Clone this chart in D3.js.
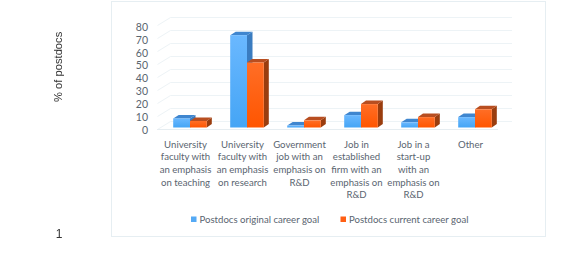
<!DOCTYPE html>
<html>
<head>
<meta charset="utf-8">
<script src="https://cdnjs.cloudflare.com/ajax/libs/d3/7.8.5/d3.min.js"></script>
<style>
  html, body { margin: 0; padding: 0; background: #fff; }
  svg { display: block; filter: blur(0.3px); }
</style>
</head>
<body>
<svg id="chart" width="574" height="262"></svg>
<script>
const categories = [
  ["University", "faculty with", "an emphasis", "on teaching"],
  ["University", "faculty with", "an emphasis", "on research"],
  ["Government", "job with an", "emphasis on", "R&D"],
  ["Job in", "established", "firm with an", "emphasis on", "R&D"],
  ["Job in a", "start-up", "with an", "emphasis on", "R&D"],
  ["Other"]
];
const originalGoal = [7, 71, 1.5, 9.5, 4, 8];
const currentGoal = [5, 50, 5.5, 18, 8, 14];
const yTicks = [0, 10, 20, 30, 40, 50, 60, 70, 80];
const seriesNames = ["Postdocs original career goal", "Postdocs current career goal"];

const svg = d3.select("#chart");
const labelFont = "Lato, 'Open Sans', sans-serif";
const textColor = "#5a6570";

const x = d3.scaleBand()
  .domain(d3.range(categories.length))
  .range([161.5, 503.5]);
const y = d3.scaleLinear().domain([0, 80]).range([127.5, 23.5]);
// tick labels sit on the front corner, slightly tighter than the bars
const yLabel = d3.scaleLinear().domain([0, 80]).range([133.8, 30.8]);
const barWidth = 16.8;

const defs = svg.append("defs");
function addGradient(id, top, bottom) {
  const g = defs.append("linearGradient")
    .attr("id", id)
    .attr("x1", 0).attr("y1", 0).attr("x2", 0).attr("y2", 1);
  g.append("stop").attr("offset", "0%").attr("stop-color", top);
  g.append("stop").attr("offset", "100%").attr("stop-color", bottom);
}
addGradient("blueFront", "#6ab8ff", "#45a5f5");
addGradient("orangeFront", "#ff6e26", "#ff5500");

// chart frame
svg.append("rect")
  .attr("x", 111.5).attr("y", 1.5)
  .attr("width", 434).attr("height", 235)
  .attr("fill", "#fff")
  .attr("stroke", "#e6eef2");

// back wall gridlines and the slanted bits on the side wall
const wallDx = 13;
const wallDy = -8;
const floorY = 2;
svg.append("g")
  .selectAll("polyline")
  .data(yTicks)
  .enter()
  .append("polyline")
  .attr("points", d => {
    const py = y(d) + floorY;
    return [
      [x.range()[0] - 4, py],
      [x.range()[0] - 4 + wallDx, py + wallDy],
      [512, py + wallDy]
    ].join(" ");
  })
  .attr("fill", "none")
  .attr("stroke", "#edf3f6");

// floor front edge
svg.append("line")
  .attr("x1", 157).attr("x2", 498)
  .attr("y1", y(0) + 2).attr("y2", y(0) + 2)
  .attr("stroke", "#e6edf1");

// y tick labels
svg.append("g")
  .selectAll("text")
  .data(yTicks)
  .enter()
  .append("text")
  .attr("x", 148)
  .attr("y", d => yLabel(d))
  .attr("text-anchor", "end")
  .attr("font-family", labelFont)
  .attr("font-size", "10.5px")
  .attr("fill", textColor)
  .text(d => d);

function drawBars(values, offset, frontFill, topFill, sideFill, depth, rise) {
  const bars = svg.append("g")
    .selectAll("g")
    .data(values)
    .enter()
    .append("g");

  const left = (d, i) => x(i) + x.bandwidth() / 2 + offset;

  bars.append("polygon")
    .attr("fill", sideFill)
    .attr("points", (d, i) => {
      const r = left(d, i) + barWidth;
      return [[r, y(d)], [r + depth, y(d) - rise], [r + depth, y(0) - rise], [r, y(0)]].join(" ");
    });

  bars.append("polygon")
    .attr("fill", topFill)
    .attr("points", (d, i) => {
      const l = left(d, i);
      const r = l + barWidth;
      return [[l, y(d)], [l + depth, y(d) - rise], [r + depth, y(d) - rise], [r, y(d)]].join(" ");
    });

  bars.append("rect")
    .attr("x", left)
    .attr("y", d => y(d))
    .attr("width", barWidth)
    .attr("height", d => y(0) - y(d))
    .attr("fill", frontFill);
}

drawBars(originalGoal, -barWidth, "url(#blueFront)", "#3f86cf", "#3a7cc0", 5.5, 3.5);
drawBars(currentGoal, 0, "url(#orangeFront)", "#b84e20", "#9a3d0e", 5, 3.5);

// category labels
const catLabels = svg.append("g")
  .selectAll("text")
  .data(categories)
  .enter()
  .append("text")
  .attr("text-anchor", "middle")
  .attr("font-family", labelFont)
  .attr("font-size", "9.6px")
  .attr("fill", textColor);

catLabels.selectAll("tspan")
  .data((d, i) => d.map((line, j) => ({ line: line, j: j, i: i })))
  .enter()
  .append("tspan")
  .attr("x", d => x(d.i) + x.bandwidth() / 2 - 4.5)
  .attr("y", d => 147.5 + d.j * 12.7)
  .text(d => d.line);

// legend
const legendX = [191, 340.5];
const legendColors = ["#55aaf5", "#ff5f14"];
const legend = svg.append("g")
  .selectAll("g")
  .data(seriesNames)
  .enter()
  .append("g");

legend.append("rect")
  .attr("x", (d, i) => legendX[i])
  .attr("y", 216.5)
  .attr("width", 5.5)
  .attr("height", 5.5)
  .attr("fill", (d, i) => legendColors[i]);

legend.append("text")
  .attr("x", (d, i) => legendX[i] + 8.5)
  .attr("y", 223)
  .attr("font-family", labelFont)
  .attr("font-size", "9.6px")
  .attr("fill", textColor)
  .text(d => d);

// text that sits outside the chart frame
svg.append("text")
  .attr("transform", "translate(61.5,102) rotate(-90)")
  .attr("font-family", "'Liberation Sans', Arial, sans-serif")
  .attr("font-size", "11.2px")
  .attr("fill", "#333")
  .text("% of postdocs");

svg.append("text")
  .attr("x", 59)
  .attr("y", 238)
  .attr("text-anchor", "middle")
  .attr("font-family", "'Liberation Sans', Arial, sans-serif")
  .attr("font-size", "12px")
  .attr("fill", "#333")
  .text("1");
</script>
</body>
</html>
